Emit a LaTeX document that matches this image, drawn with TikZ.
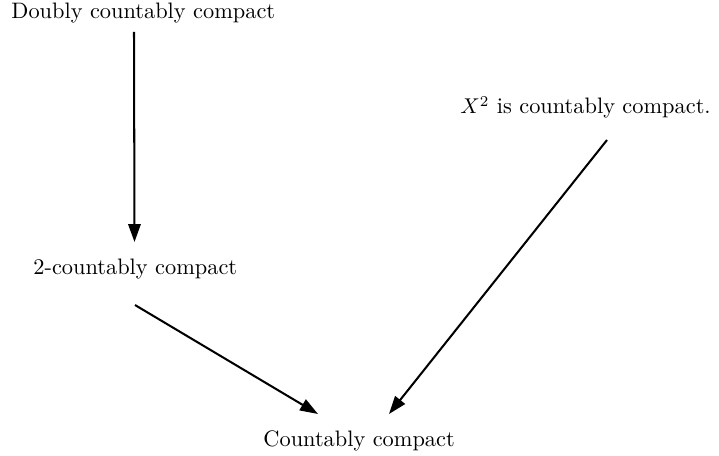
\documentclass[tikz,border=0pt]{standalone}
\usetikzlibrary{arrows.meta,calc}
\begin{document}
\begin{tikzpicture}[x=0.4673pt,y=-0.4673pt,
  lbl/.style={inner sep=0pt,anchor=base west,font=\fontsize{10.45pt}{12.5pt}\selectfont},
  arr/.style={line width=0.95pt,-{Triangle[length=8.4pt,width=5.8pt]}}]
\useasboundingbox (0,0) rectangle (719,456);
\node[lbl] (a) at (11,19) {Doubly countably compact};
\node[lbl] (c) at (460,114) {$X^2$ is countably compact.};
\node[lbl] (b) at (33,275) {2-countably compact};
\node[lbl] (d) at (263,446) {Countably compact};
\draw[arr] ($(a.base west)+(123,13)$) -- ($(b.base west)+(101.5,-33)$);
\draw[arr] ($(b.base west)+(102,30)$) -- ($(d.base west)+(55,-32)$);
\draw[arr] ($(c.base west)+(147,26)$) -- ($(d.base west)+(126,-32)$);
\end{tikzpicture}
\end{document}
